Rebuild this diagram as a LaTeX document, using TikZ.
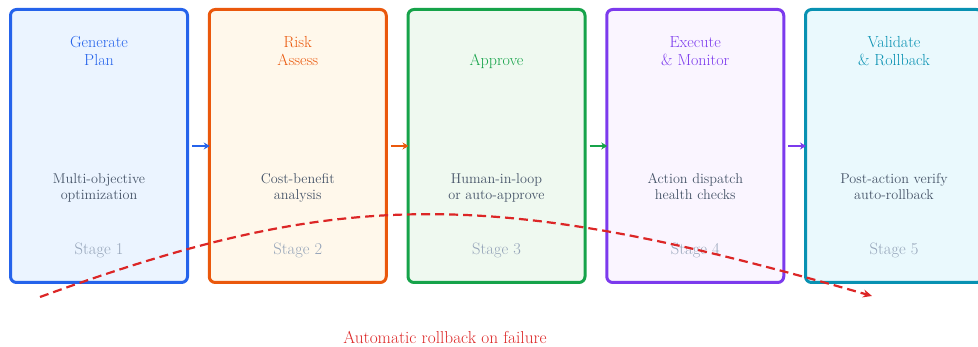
\documentclass[tikz,border=0pt]{standalone}
\usetikzlibrary{arrows.meta}
\definecolor{cBlue}{HTML}{2563EB}\definecolor{fBlue}{HTML}{EBF4FF}
\definecolor{cOrange}{HTML}{EA580C}\definecolor{fOrange}{HTML}{FFF8EB}
\definecolor{cGreen}{HTML}{16A34A}\definecolor{fGreen}{HTML}{EFF9F0}
\definecolor{cPurple}{HTML}{7C3AED}\definecolor{fPurple}{HTML}{FAF5FF}
\definecolor{cTeal}{HTML}{0891B2}\definecolor{fTeal}{HTML}{EAF9FD}
\definecolor{descGray}{HTML}{475569}
\definecolor{stageGray}{HTML}{94A3B8}
\definecolor{rbRed}{HTML}{DC2626}
\tikzset{
  stagebox/.style={draw=#1, line width=3pt, rounded corners=6pt, minimum width=177pt, minimum height=273pt, inner sep=0pt},
  titletext/.style={text=#1, font=\fontsize{16}{18}\selectfont, align=center, anchor=base},
  desctext/.style={text=descGray, font=\fontsize{14.2}{16}\selectfont, align=center, anchor=base},
  stagetext/.style={text=stageGray, font=\fontsize{16.5}{18}\selectfont, anchor=base},
  flow/.style={draw=#1, line width=2pt, -{Stealth[length=6pt,width=7pt]}, shorten <=3pt, shorten >=-2pt},
  rollback/.style={draw=rbRed, line width=2.2pt, dash pattern=on 9pt off 5pt, -{Stealth[length=9pt,width=8pt]}},
}
\begin{document}
\begin{tikzpicture}[x=1pt,y=-1pt]
\useasboundingbox (0,0) rectangle (978,347);
\clip (0,0) rectangle (978,347);
\node[stagebox=cBlue, fill=fBlue] (b1) at (99,146) {};
\node[stagebox=cOrange, fill=fOrange] (b2) at (297.75,146) {};
\node[stagebox=cGreen, fill=fGreen] (b3) at (496.5,146) {};
\node[stagebox=cPurple, fill=fPurple] (b4) at (695.25,146) {};
\node[stagebox=cTeal, fill=fTeal] (b5) at (894,146) {};

\node[titletext=cBlue] (t1) at (99,66) {Generate\\Plan};
\node[titletext=cOrange] (t2) at (297.75,66) {Risk\\Assess};
\node[titletext=cGreen] (t3) at (496.5,66) {Approve};
\node[titletext=cPurple] (t4) at (695.25,66) {Execute\\\& Monitor};
\node[titletext=cTeal] (t5) at (894,66) {Validate\\\& Rollback};

\node[desctext] (d1) at (99,200) {Multi-objective\\optimization};
\node[desctext] (d2) at (297.75,200) {Cost-benefit\\analysis};
\node[desctext] (d3) at (496.5,200) {Human-in-loop\\or auto-approve};
\node[desctext] (d4) at (695.25,200) {Action dispatch\\health checks};
\node[desctext] (d5) at (894,200) {Post-action verify\\auto-rollback};

\node[stagetext] (s1) at (99,255) {Stage 1};
\node[stagetext] (s2) at (297.75,255) {Stage 2};
\node[stagetext] (s3) at (496.5,255) {Stage 3};
\node[stagetext] (s4) at (695.25,255) {Stage 4};
\node[stagetext] (s5) at (894,255) {Stage 5};

\draw[flow=cBlue] (b1.east) -- (b2.west);
\draw[flow=cOrange] (b2.east) -- (b3.west);
\draw[flow=cGreen] (b3.east) -- (b4.west);
\draw[flow=cPurple] (b4.east) -- (b5.west);

\coordinate (rbs) at (40,297);
\coordinate (rbe) at (872,296);
\draw[rollback] (rbs) .. controls (340,188) and (490,186) .. (rbe);
\node[text=rbRed, font=\fontsize{17.3}{20}\selectfont, anchor=base] (rbl) at (445,344) {Automatic rollback on failure};
\end{tikzpicture}
\end{document}
